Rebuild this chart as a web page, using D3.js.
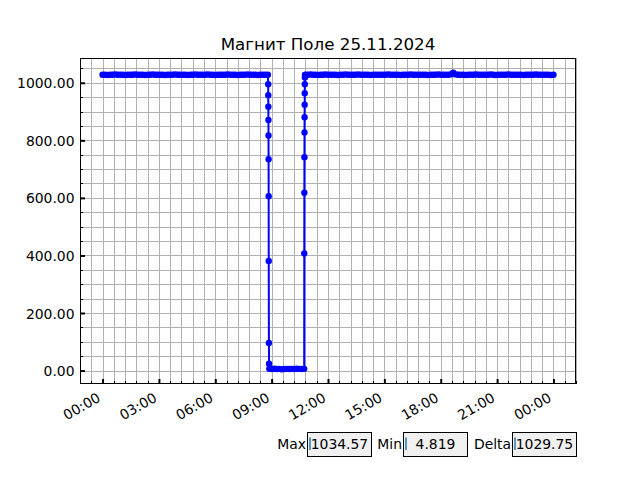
<!DOCTYPE html>
<html><head><meta charset="utf-8">
<script src="https://cdn.jsdelivr.net/npm/d3@7"></script>
<style>
body{margin:0;background:#fff}
text{font-family:"DejaVu Sans",sans-serif}
</style>
</head><body>
<svg id="c" width="640" height="480"></svg>
<script>
// ---------------- DATA ----------------
const title = "Магнит Поле 25.11.2024";
const dayStart = Date.UTC(2024, 10, 25, 0, 0);
// minutes since 00:00 on 25.11.2024
const times = [
  0,8,16,24,32,40,48,56,64,72,
  80,88,96,104,112,120,128,136,144,152,
  160,168,176,184,192,200,208,216,224,232,
  240,248,256,264,272,280,288,296,304,312,
  320,328,336,344,352,360,368,376,384,392,
  400,408,416,424,432,440,448,456,464,472,
  480,488,496,504,512,520,528,
  529,529.25,529.5,529.75,530,530.25,530.5,530.75,531.25,531.75,
  532.5,540,548,556,564,572,580,588,596,604,612,620,628,636,644,
  644.25,644.5,644.75,645,645.25,645.5,645.75,646,646.25,646.5,
  648,656,664,672,680,688,696,704,712,720,
  728,736,744,752,760,768,776,784,792,800,
  808,816,824,832,840,848,856,864,872,880,
  888,896,904,912,920,928,936,944,952,960,
  968,976,984,992,1000,1008,1016,1024,1032,1040,
  1048,1056,1064,1072,1080,1088,1096,1104,1112,1120,
  1128,1136,1144,1152,1160,1168,1176,1184,1192,1200,
  1208,1216,1224,1232,1240,1248,1256,1264,1272,1280,
  1288,1296,1304,1312,1320,1328,1336,1344,1352,1360,
  1368,1376,1384,1392,1400,1408,1416,1424,1432,1440
];
const values = [
  1028,1028,1027,1028,1028,1029,1028,1028,1028,1027,
  1028,1028,1028,1029,1028,1028,1028,1027,1028,1028,
  1029,1028,1028,1028,1028,1027,1028,1028,1028,1029,
  1028,1028,1028,1028,1027,1028,1028,1029,1028,1028,
  1028,1028,1029,1028,1028,1027,1028,1028,1028,1028,
  1029,1028,1028,1028,1027,1028,1028,1028,1029,1028,
  1028,1028,1027,1028,1028,1028,1028,
  995,957,917,871,817,734,606,381,96,24,
  5.9,5.7,6.1,5.4,5.8,4.819,5.6,6.0,5.5,5.9,5.7,6.2,5.8,5.6,5.9,
  407,618,741,827,880,924,964,995,1018,1027,
  1028,1028,1029,1028,1028,1027,1028,1028,1029,1028,
  1028,1028,1028,1027,1028,1028,1029,1028,1028,1028,
  1028,1029,1028,1028,1028,1028,1027,1028,1028,1028,
  1028,1028,1028,1029,1028,1028,1028,1028,1027,1028,
  1028,1028,1029,1028,1028,1028,1028,1028,1028,1027,
  1028,1028,1028,1029,1028,1028,1028,1028,1029,1034.57,
  1029,1028,1028,1028,1027,1028,1028,1028,1029,1028,
  1028,1028,1028,1028,1029,1028,1027,1028,1028,1028,
  1028,1029,1028,1028,1028,1028,1028,1027,1028,1028,
  1028,1028,1029,1028,1028,1028,1028,1028,1027,1028
];
const statLabels = ["Max", "Min", "Delta"];

// ---------------- LAYOUT ----------------
const W = 640, H = 480;
const L = 80, R = 576, T = 58, B = 384;
const svg = d3.select("#c");
svg.append("rect").attr("width", W).attr("height", H).attr("fill", "#fff");

const data = times.map((m, i) => ({t: new Date(dayStart + m * 60000), v: values[i]}));
const tExt = d3.extent(data, d => +d.t);
const tPad = (tExt[1] - tExt[0]) * 0.05;
const vMin = d3.min(values), vMax = d3.max(values);
const vPad = (vMax - vMin) * 0.05;

const x = d3.scaleUtc().domain([new Date(tExt[0] - tPad), new Date(tExt[1] + tPad)]).range([L, R]);
const y = d3.scaleLinear().domain([vMin - vPad, vMax + vPad]).range([B, T]);

// minor positions
const minorT = d3.range(-2, 43).map(k => new Date(dayStart + k * 36 * 60000))
  .filter(d => d >= x.domain()[0] - 1 && d <= +x.domain()[1] + 1);
const minorV = d3.range(0, 1101, 50).filter(v => v >= y.domain()[0] && v <= y.domain()[1]);
const majorT = d3.utcHour.every(3).range(new Date(dayStart), new Date(tExt[1] + 1));
const majorV = y.ticks(6);

// grid
const grid = svg.append("g").attr("shape-rendering", "crispEdges");
grid.selectAll("line.gx").data(minorT).join("line")
  .attr("x1", d => Math.round(x(d)) + 0.5).attr("x2", d => Math.round(x(d)) + 0.5)
  .attr("y1", T).attr("y2", B).attr("stroke", "#b0b0b0").attr("stroke-width", 1);
grid.selectAll("line.gy").data(minorV).join("line")
  .attr("y1", d => Math.round(y(d)) + 0.5).attr("y2", d => Math.round(y(d)) + 0.5)
  .attr("x1", L).attr("x2", R).attr("stroke", "#b0b0b0").attr("stroke-width", 1);

// data line and markers
const line = d3.line().x(d => x(d.t)).y(d => y(d.v));
svg.append("path").datum(data).attr("d", line)
  .attr("fill", "none").attr("stroke", "#0000ff").attr("stroke-width", 2)
  .attr("stroke-linejoin", "round");
svg.append("g").selectAll("circle").data(data).join("circle")
  .attr("cx", d => x(d.t)).attr("cy", d => y(d.v)).attr("r", 3.2).attr("fill", "#0000ff");

// frame
svg.append("rect").attr("x", L + 0.5).attr("y", T + 0.5).attr("width", R - L - 1).attr("height", B - T - 1)
  .attr("fill", "none").attr("stroke", "#000").attr("stroke-width", 1).attr("shape-rendering", "crispEdges");

// minor ticks (inward)
const tk = svg.append("g").attr("shape-rendering", "crispEdges");
tk.selectAll("line.mx").data(minorT).join("line")
  .attr("x1", d => Math.round(x(d)) + 0.5).attr("x2", d => Math.round(x(d)) + 0.5)
  .attr("y1", B).attr("y2", B - 3).attr("stroke", "#000");
tk.selectAll("line.my").data(minorV).join("line")
  .attr("y1", d => Math.round(y(d)) + 0.5).attr("y2", d => Math.round(y(d)) + 0.5)
  .attr("x1", L).attr("x2", L + 3).attr("stroke", "#000");

// major x axis
const fmtT = d3.utcFormat("%H:%M");
const gx = svg.append("g").attr("transform", `translate(0,${B})`)
  .call(d3.axisBottom(x).tickValues(majorT).tickSizeInner(-5).tickSizeOuter(0).tickFormat(fmtT));
gx.select(".domain").remove();
gx.selectAll(".tick line").attr("stroke", "#000").attr("stroke-width", 2);
gx.selectAll(".tick text").attr("y", 0).attr("dy", 0)
  .attr("font-size", "13.9px").attr("fill", "#000").attr("text-anchor", "end")
  .attr("transform", "translate(-1.6,16.5) rotate(-30)");

// major y axis
const gy = svg.append("g").attr("transform", `translate(${L},0)`)
  .call(d3.axisLeft(y).tickValues(majorV).tickSizeInner(-5).tickSizeOuter(0).tickPadding(0).tickFormat(d3.format(".2f")));
gy.select(".domain").remove();
gy.selectAll(".tick line").attr("stroke", "#000").attr("stroke-width", 2);
gy.selectAll(".tick text").attr("x", -5.5).attr("dy", "0.36em")
  .attr("font-size", "13.9px").attr("fill", "#000");
gy.attr("font-family", null); gx.attr("font-family", null);

// title
svg.append("text").attr("x", (L + R) / 2).attr("y", 49.5).attr("text-anchor", "middle")
  .attr("font-size", "16.7px").attr("fill", "#000").text(title);

// stat text boxes
const fmtS = d3.format(".6~g");
const statVals = [vMax, vMin, vMax - vMin];
const boxes = [{x: 307, w: 64}, {x: 403, w: 64}, {x: 512, w: 64}];
const by = 432, bh = 24;
boxes.forEach((b, i) => {
  const g = svg.append("g");
  g.append("rect").attr("x", b.x + 0.5).attr("y", by + 0.5).attr("width", b.w).attr("height", bh)
    .attr("fill", "#f0f0f0").attr("stroke", "#000").attr("stroke-width", 1).attr("shape-rendering", "crispEdges");
  g.append("text").attr("x", b.x - 1).attr("y", by + bh / 2 + 4.5).attr("text-anchor", "end")
    .attr("font-size", "13.9px").attr("fill", "#000").text(statLabels[i]);
  g.append("text").attr("x", b.x + b.w / 2 + 0.5).attr("y", by + bh / 2 + 4.5).attr("text-anchor", "middle")
    .attr("font-size", "13.9px").attr("fill", "#000").text(fmtS(statVals[i]));
  g.append("line").attr("x1", b.x + 3).attr("x2", b.x + 3).attr("y1", by + 5.5).attr("y2", by + 18)
    .attr("stroke", "#1f77b4").attr("stroke-width", 1.5);
});
</script>
</body></html>
